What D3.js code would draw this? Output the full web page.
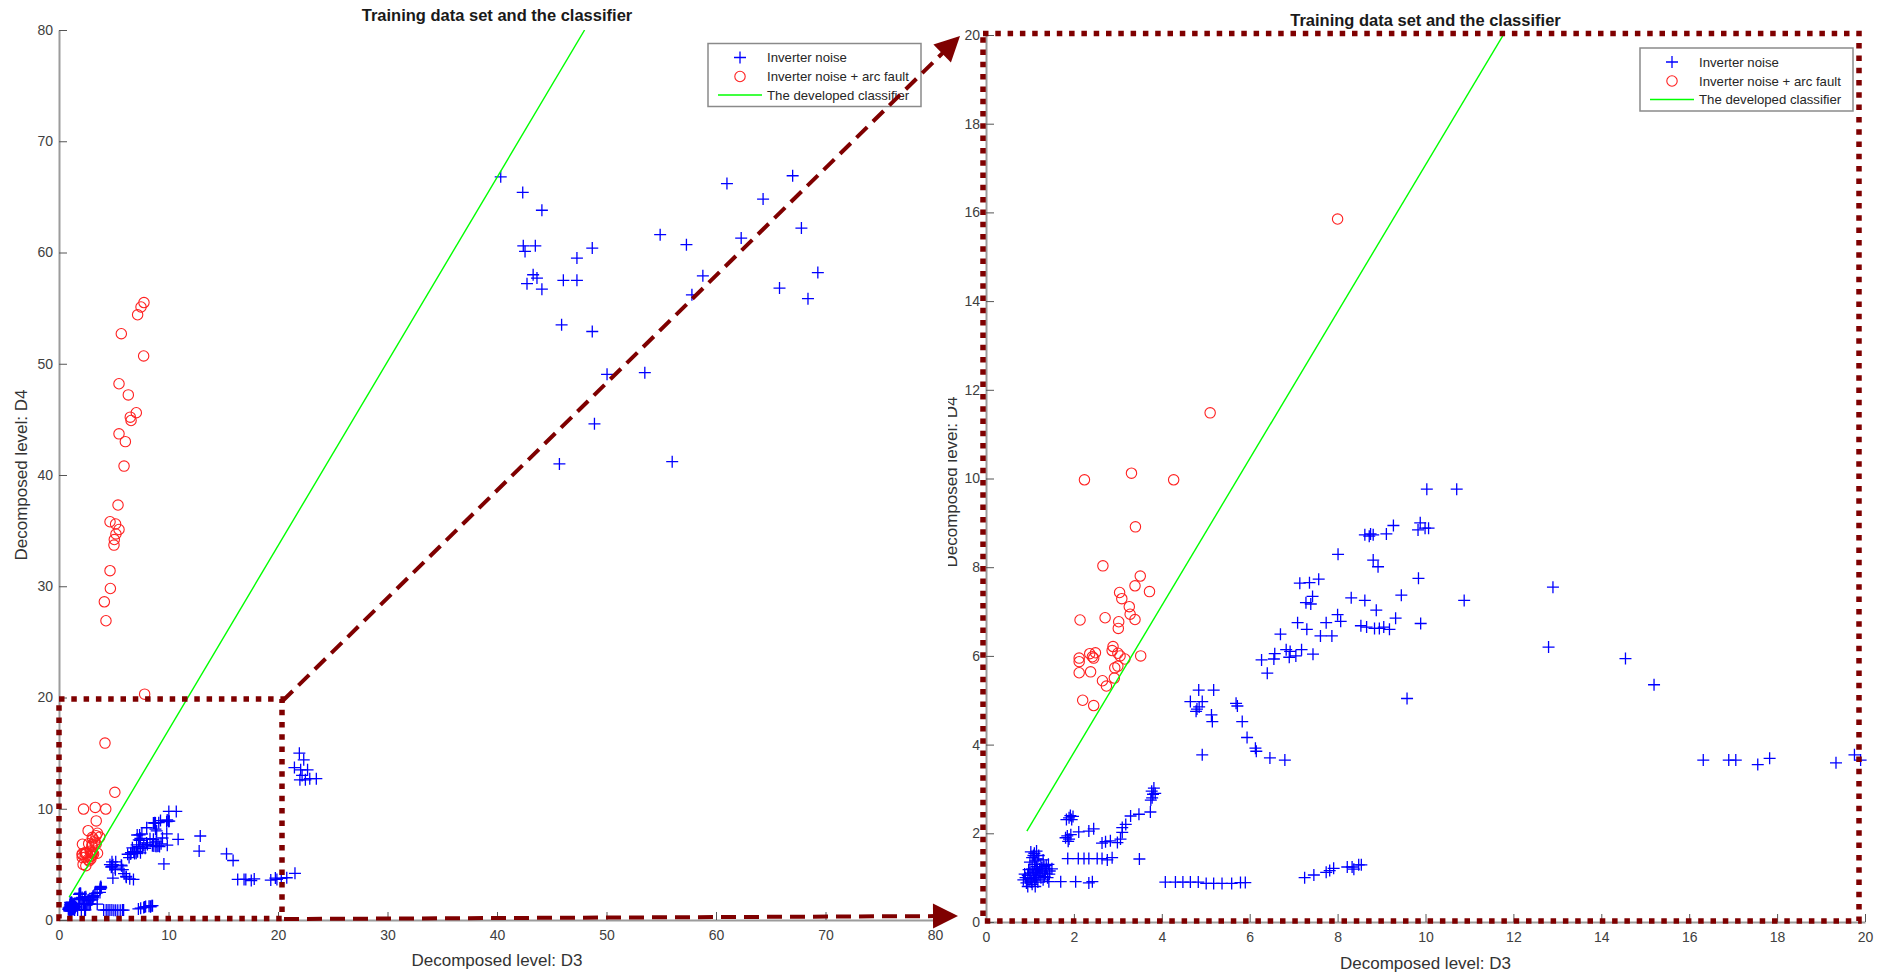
<!doctype html>
<html>
<head>
<meta charset="utf-8">
<script src="https://cdn.jsdelivr.net/npm/d3@7"></script>
<style>
  body { margin: 0; background: #fff; }
  text { font-family: "Liberation Sans", Arial, Helvetica, sans-serif; }
</style>
</head>
<body>
<svg id="chart" width="1884" height="973"></svg>
<script>
// ---- data (D3 level, D4 level) ----

// inverter noise, low-amplitude part (inside 0..20 zoom)
var noiseCluster = [
  [0.85,0.95],[0.9,1.0],[0.92,0.88],[0.95,1.05],[0.98,0.92],[1.0,1.1],[1.02,0.98],[1.05,0.85],
  [1.05,1.2],[1.08,1.05],[1.1,0.95],[1.1,1.3],[1.12,1.15],[1.15,1.0],[1.15,1.25],[1.18,0.9],
  [1.2,1.1],[1.22,1.2],[1.25,1.0],[1.25,1.3],[1.28,1.15],[1.3,0.95],[1.32,1.25],[1.35,1.1],
  [1.38,1.2],[1.4,1.0],[1.42,1.3],[1.45,1.15],[1.5,1.2],[1.05,1.45],[1.1,1.55],[1.15,1.6],
  [1.08,1.5],[1.2,1.5],[1.0,1.35],[0.95,0.8],[1.3,1.4],[1.12,0.8],
  [0.88,1.08],[0.97,1.18],[1.03,0.9],[1.07,1.12],[1.13,1.05],[1.17,1.18],[1.23,1.05],
  [1.27,1.22],[1.33,1.02],[1.37,1.28],[1.44,1.08],[1.12,1.38],[1.18,1.42],[1.02,1.58]
];
var noiseLow = [
  [1.43,0.91],[1.7,0.91],[2.04,0.91],[2.34,0.88],[2.42,0.91],
  [1.86,1.43],[2.1,1.43],[2.23,1.43],[2.34,1.43],[2.53,1.43],[2.64,1.43],[2.76,1.40],[2.87,1.45],[3.49,1.42],
  [1.89,2.35],[1.95,2.31],[1.83,2.31],[1.92,2.4],[1.98,2.38],[1.85,1.94],[1.89,1.87],[1.81,1.9],[1.93,1.97],[1.87,1.82],
  [2.11,2.03],[2.34,2.05],[2.45,2.1],[2.72,1.81],[2.83,1.83],[2.64,1.78],[2.99,1.79],[3.06,1.87],
  [3.1,2.02],[3.1,2.13],[3.18,2.2],[3.29,2.39],[3.48,2.43],[3.74,2.48],
  [3.77,2.95],[3.8,2.88],[3.82,3.02],[3.78,2.8],[3.85,2.9],[3.75,2.75],
  [4.08,0.9],[4.31,0.9],[4.48,0.9],[4.65,0.9],[4.83,0.9],[5.01,0.87],[5.18,0.87],[5.37,0.87],[5.59,0.87],[5.79,0.89],[5.9,0.89],
  [7.25,1.0],[7.46,1.06],[7.74,1.12],[7.82,1.16],[7.91,1.21],[8.22,1.24],[8.33,1.24],[8.37,1.19],[8.48,1.29],[8.54,1.29]
];
var noiseMid = [
  [4.84,5.23],[5.18,5.23],[4.65,4.97],[4.92,4.97],[4.8,4.8],[4.85,4.85],[4.78,4.75],[5.13,4.67],[5.15,4.52],
  [5.69,4.93],[5.72,4.87],[5.83,4.52],[5.94,4.16],[6.13,3.92],[6.15,3.85],[6.46,3.7],[6.8,3.65],[4.92,3.77],
  [6.27,5.91],[6.4,5.61],[6.57,6.05],[6.83,6.14],[6.92,6.1],[7.05,6.0],[7.18,6.14],[7.44,6.04],[6.9,5.97],[6.55,5.93],
  [6.7,6.49],[7.09,6.75],[7.3,6.6],[7.74,6.75],[8.0,6.93],[8.07,6.78],[7.61,6.45],[7.87,6.45],
  [8.53,6.68],[8.66,6.65],[8.84,6.62],[8.95,6.62],[9.05,6.65],[9.18,6.6],[9.32,6.85],[9.89,6.73],
  [7.14,7.64],[7.36,7.65],[7.57,7.73],[7.28,7.2],[7.43,7.34],[7.39,7.17],[8.31,7.31],[8.62,7.25],[8.88,7.03],
  [9.45,7.37],[10.88,7.25],[9.84,7.75],[8.01,8.29],[8.81,8.16],[8.92,8.01],
  [8.62,8.73],[8.75,8.75],[8.81,8.73],[8.72,8.70],[9.11,8.75],[9.27,8.94],[9.83,8.84],[9.88,9.0],[9.99,8.88],[10.07,8.88],
  [10.03,9.76],[10.71,9.76],[9.58,5.04],
  [12.8,6.2],[12.9,7.55],
  [16.32,3.65],[16.9,3.65],[17.06,3.65],[17.56,3.55],[17.83,3.69],[19.34,3.59],[19.76,3.77],[19.9,3.65]
];
// points that sit a little differently in the overview and in the zoomed copy
var noiseOverviewOnly = [[15.3,5.95],[15.9,5.35]];
var noiseZoomOnly = [[14.55,5.94],[15.2,5.35]];

// inverter noise outside the zoomed window
var noiseHigh = [
  [20.3,3.75],[20.8,3.8],[21.55,4.2],
  [21.95,15.0],[22.35,14.4],[21.5,13.7],[22.07,13.5],[22.7,13.5],[22.2,13.0],[22.0,12.6],[22.5,12.6],[22.9,12.7],[23.5,12.7],
  [40.34,66.8],[42.35,65.4],[44.1,63.8],[42.4,60.6],[43.5,60.6],[42.56,60.1],[48.7,60.4],[47.3,59.5],
  [43.3,58.0],[43.65,57.7],[42.74,57.2],[44.1,56.7],[46.06,57.5],[47.3,57.5],[45.9,53.5],[48.7,52.9],
  [50.05,49.05],[53.5,49.2],[48.9,44.6],[45.7,41.0],[56.0,41.2],[54.9,61.6],[57.3,60.7],[61.0,66.2],
  [67.0,66.9],[64.3,64.8],[62.3,61.3],[67.8,62.2],[58.8,57.9],[57.8,56.2],[69.3,58.2],[65.8,56.8],[68.4,55.85]
];

// inverter noise + arc fault
var arcLow = [
  [5.10,11.48],[2.24,9.97],[3.31,10.12],[4.27,9.97],[3.40,8.91],[2.66,8.03],[3.51,7.80],[3.39,7.58],
  [3.72,7.45],[3.04,7.43],[3.09,7.29],[3.26,7.11],[3.28,6.94],[3.39,6.82],[2.14,6.81],[2.71,6.86],
  [3.02,6.77],[3.01,6.62],[3.52,6.00],[2.89,6.21],[2.87,6.12],[3.00,6.06],[3.05,6.00],[3.16,5.93],
  [2.49,6.07],[2.42,5.98],[2.36,6.05],[2.45,5.95],[2.12,5.95],[2.12,5.87],[2.12,5.62],[2.38,5.64],
  [2.65,5.44],[2.74,5.32],[2.92,5.50],[2.93,5.73],[3.00,5.77],[2.20,5.00],[2.45,4.88]
];
var arcOverviewOnly = [[4.2,15.9]];
var arcZoomOnly = [[8.0,15.85]];
var arcHigh = [
  [7.76,55.5],[7.49,55.1],[7.18,54.4],[5.69,52.7],[7.73,50.7],[5.48,48.2],[6.33,47.2],[7.06,45.6],
  [6.51,45.2],[6.58,44.9],[5.48,43.7],[6.06,43.0],[5.94,40.8],[5.39,37.3],[4.66,35.8],[5.17,35.6],
  [5.48,35.1],[5.2,34.7],[5.05,34.2],[5.02,33.7],[4.66,31.4],[4.69,29.8],[4.14,28.6],[4.29,26.9],[7.82,20.3]
];

// the developed classifier (end points of the straight line)
var classifier = [[0.93, 2.05], [48.0, 80]];

var leftTicks = [0, 10, 20, 30, 40, 50, 60, 70, 80];
var rightTicks = [0, 2, 4, 6, 8, 10, 12, 14, 16, 18, 20];
var legendLabels = ["Inverter noise", "Inverter noise + arc fault", "The developed classifier"];
var titleText = "Training data set and the classifier";
var xLabelText = "Decomposed level: D3";
var yLabelText = "Decomposed level: D4";

var svg = d3.select("#chart");
var defs = svg.append("defs");
var dark = "#7f0000";

function plusPath(x, y, d) {
  var px = x(d[0]), py = y(d[1]);
  return "M" + (px - 6) + "," + py + "h12M" + px + "," + (py - 6) + "v12";
}

function styleAxis(sel) {
  sel.select(".domain").attr("stroke", "#9c9c9c").attr("stroke-width", 2);
  sel.selectAll(".tick line").attr("stroke", "#555").attr("stroke-width", 1);
  sel.selectAll(".tick text").attr("fill", "#404040").attr("font-size", 14)
    .attr("font-family", "'Liberation Sans', Arial, sans-serif");
}

function drawPanel(p) {
  var g = svg.append("g");
  var x = d3.scaleLinear().domain(p.domain).range([p.left, p.right]);
  var y = d3.scaleLinear().domain(p.domain).range([p.bottom, p.top]);

  defs.append("clipPath").attr("id", "clip-" + p.name)
    .append("rect")
      .attr("x", p.left).attr("y", p.top)
      .attr("width", p.right - p.left).attr("height", p.bottom - p.top);

  g.append("g")
    .attr("transform", "translate(0," + p.bottom + ")")
    .call(d3.axisBottom(x).tickValues(p.ticks).tickSize(-8).tickSizeOuter(0).tickPadding(10))
    .call(styleAxis);
  g.append("g")
    .attr("transform", "translate(" + p.left + ",0)")
    .call(d3.axisLeft(y).tickValues(p.ticks).tickSize(-8).tickSizeOuter(0).tickPadding(6))
    .call(styleAxis);

  var inside = function(d) {
    return d[0] >= p.domain[0] && d[0] <= p.domain[1] && d[1] >= p.domain[0] && d[1] <= p.domain[1];
  };

  g.append("g").selectAll("path")
    .data(p.noise.filter(inside))
    .join("path")
      .attr("d", function(d) { return plusPath(x, y, d); })
      .attr("stroke", "#0000ff")
      .attr("stroke-width", 1.3)
      .attr("fill", "none");

  g.append("g").selectAll("circle")
    .data(p.arc.filter(inside))
    .join("circle")
      .attr("cx", function(d) { return x(d[0]); })
      .attr("cy", function(d) { return y(d[1]); })
      .attr("r", 5.2)
      .attr("stroke", "#ff2020")
      .attr("stroke-width", 1.1)
      .attr("fill", "none");

  g.append("path")
    .datum(classifier)
    .attr("clip-path", "url(#clip-" + p.name + ")")
    .attr("d", d3.line().x(function(d) { return x(d[0]); }).y(function(d) { return y(d[1]); }))
    .attr("stroke", "#00ff00")
    .attr("stroke-width", 1.4)
    .attr("fill", "none");

  // title and axis labels
  g.append("text")
    .attr("x", (p.left + p.right) / 2).attr("y", p.titleY)
    .attr("text-anchor", "middle")
    .attr("font-size", 16.5).attr("font-weight", "bold").attr("fill", "#1a1a1a")
    .text(titleText);
  g.append("text")
    .attr("x", (p.left + p.right) / 2).attr("y", p.xLabelY)
    .attr("text-anchor", "middle")
    .attr("font-size", 17).attr("fill", "#333")
    .text(xLabelText);
  var ylg = g.append("g");
  ylg.append("text")
    .attr("transform", "translate(" + p.yLabelX + "," + p.yLabelMid + ") rotate(-90)")
    .attr("text-anchor", "middle")
    .attr("font-size", 17).attr("fill", "#333")
    .text(yLabelText);
  if (p.yLabelClip) {
    // the zoomed copy is cut off at its left edge, tops of the letters included
    defs.append("clipPath").attr("id", "ylclip-" + p.name)
      .append("rect").attr("x", p.yLabelClip).attr("y", 0).attr("width", 100).attr("height", 973);
    ylg.attr("clip-path", "url(#ylclip-" + p.name + ")");
  }

  // legend
  var lg = g.append("g").attr("transform", "translate(" + p.legend[0] + "," + p.legend[1] + ")");
  lg.append("rect")
    .attr("width", 213).attr("height", 63)
    .attr("fill", "#fff").attr("stroke", "#8a8a8a").attr("stroke-width", 1.5);
  var rows = [14, 33, 51.5];
  lg.append("path")
    .attr("d", "M" + (32 - 6) + "," + rows[0] + "h12M32," + (rows[0] - 6) + "v12")
    .attr("stroke", "#0000ff").attr("stroke-width", 1.3);
  lg.append("circle").attr("cx", 32).attr("cy", rows[1]).attr("r", 5.2)
    .attr("stroke", "#ff2020").attr("stroke-width", 1.1).attr("fill", "none");
  lg.append("line").attr("x1", 10).attr("x2", 54).attr("y1", rows[2]).attr("y2", rows[2])
    .attr("stroke", "#00ff00").attr("stroke-width", 1.4);
  lg.selectAll("text.lab")
    .data(legendLabels)
    .join("text")
      .attr("class", "lab")
      .attr("x", 59)
      .attr("y", function(d, i) { return rows[i]; })
      .attr("dy", "0.35em")
      .attr("font-size", 13.2).attr("fill", "#262626")
      .text(function(d) { return d; });

  return { x: x, y: y };
}

var L = drawPanel({
  name: "left", domain: [0, 80], ticks: leftTicks,
  noise: noiseCluster.concat(noiseLow, noiseMid, noiseOverviewOnly, noiseHigh),
  arc: arcLow.concat(arcOverviewOnly, arcHigh),
  left: 59, right: 935, top: 30, bottom: 920,
  titleY: 21, xLabelY: 966, yLabelX: 27, yLabelMid: 475,
  legend: [708, 43.5]
});
var R = drawPanel({
  name: "right", domain: [0, 20], ticks: rightTicks,
  noise: noiseCluster.concat(noiseLow, noiseMid, noiseZoomOnly, noiseHigh),
  arc: arcLow.concat(arcZoomOnly, arcHigh),
  left: 986, right: 1865, top: 35, bottom: 922,
  titleY: 26, xLabelY: 969, yLabelX: 957, yLabelMid: 482, yLabelClip: 948,
  legend: [1640, 48]
});

// ---- zoom annotation: dotted boxes and dashed arrows ----
var ann = svg.append("g");
var dotted = { stroke: dark, "stroke-width": 5.5, "stroke-dasharray": "5.5,6.8", fill: "none" };

function box(x0, y0, x1, y1) {
  var r = ann.append("rect")
    .attr("x", x0).attr("y", y0).attr("width", x1 - x0).attr("height", y1 - y0);
  Object.keys(dotted).forEach(function(k) { r.attr(k, dotted[k]); });
}
box(L.x(0), L.y(20) + 1.5, L.x(20) + 4, L.y(0) - 1.5);
box(R.x(0) - 3, R.y(20) - 1.5, R.x(20) - 6, R.y(0) - 1);

function arrow(x0, y0, x1, y1) {
  var dx = x1 - x0, dy = y1 - y0, len = Math.sqrt(dx * dx + dy * dy);
  var ux = dx / len, uy = dy / len, head = 25, half = 12.5;
  var bx = x1 - ux * head, by = y1 - uy * head;
  ann.append("line")
    .attr("x1", x0).attr("y1", y0).attr("x2", bx + ux * 2).attr("y2", by + uy * 2)
    .attr("stroke", dark).attr("stroke-width", 4).attr("stroke-dasharray", "15,8");
  ann.append("path")
    .attr("d", "M" + x1 + "," + y1 +
      "L" + (bx - uy * half) + "," + (by + ux * half) +
      "L" + (bx + uy * half) + "," + (by - ux * half) + "Z")
    .attr("fill", dark);
}
arrow(L.x(20) + 4, L.y(20) + 4, R.x(0) - 26, R.y(20) + 1);
arrow(L.x(20) + 6, L.y(0) - 1, R.x(0) - 28, R.y(0) - 6);
</script>
</body>
</html>
